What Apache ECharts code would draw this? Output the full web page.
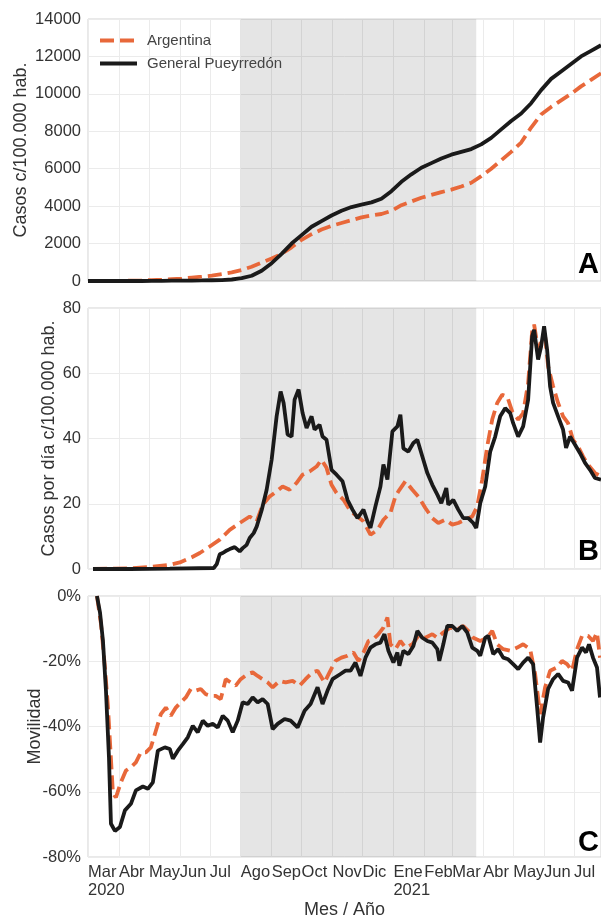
<!DOCTYPE html>
<html><head><meta charset="utf-8">
<script src="https://cdn.jsdelivr.net/npm/echarts@6/dist/echarts.min.js"></script>
<style>html,body{margin:0;padding:0;background:#fff}#c{width:601px;height:917px}</style>
</head><body><div id="c"></div><script>
// Month labels (Spanish)
const monthNames = ['Ene','Feb','Mar','Abr','May','Jun','Jul','Ago','Sep','Oct','Nov','Dic'];
const seriesNames = ['Argentina', 'General Pueyrredón'];
// Days counted from 2020-03-01
const daysA = [0,14,24,34,44,54,64,74,84,94,104,114,124,134,144,154,164,174,184,194,204,214,224,234,244,254,264,274,284,294,304,314,324,334,344,354,364,374,384,394,404,414,424,434,444,454,464,474,484,494,504,514];
// Panel A: cumulative cases per 100,000
const argCum = [0,0,5,10,20,30,50,70,100,130,180,230,290,370,460,590,760,980,1200,1450,1800,2200,2500,2750,2950,3100,3250,3400,3500,3580,3750,4050,4250,4450,4600,4750,4880,5050,5250,5600,6000,6450,6900,7400,8200,8900,9300,9650,10000,10400,10750,11100];
const gpCum = [0,0,0,0,0,0,5,10,15,20,25,30,40,50,80,150,280,550,950,1450,2000,2450,2900,3200,3500,3750,3950,4080,4200,4400,4800,5300,5700,6050,6300,6550,6750,6900,7050,7300,7650,8100,8550,8950,9500,10200,10800,11200,11600,12000,12300,12600];
// Panel B: daily cases per 100,000 [day, value]
const argDaily = [[5,0],[42,0.2],[62,0.6],[82,1.3],[92,2],[104,3.6],[112,4.9],[122,6.9],[132,9],[142,12],[152,14.1],[162,16.1],[169,14.6],[175,19.7],[182,22.2],[189,23.8],[195,25.3],[202,24.3],[209,26.4],[215,28.9],[222,29.9],[229,31.4],[234,33.5],[239,31],[244,25.8],[249,23.3],[256,21.2],[263,17.7],[270,16.1],[276,14.6],[283,10.5],[290,12],[296,15.1],[303,17.2],[308,22.2],[311,23.8],[318,26.9],[325,24.3],[331,22.2],[338,18.7],[345,15.6],[351,14.1],[358,15.1],[365,13.6],[371,14.1],[378,15.1],[385,16.1],[390,19.2],[395,27.4],[400,37.6],[405,45.8],[410,50.9],[415,53.4],[420,52.9],[425,48.3],[431,45.8],[436,47.8],[441,57],[445,72.8],[447,74.9],[451,67.2],[455,70.8],[458,71.3],[461,62.1],[466,56],[471,50.9],[476,46.8],[481,44.7],[486,39.6],[491,37.6],[496,34.5],[501,32],[508,29.4],[514,28.4]];
const gpDaily = [[5,0],[42,0],[82,0.1],[126,0.3],[129,1.5],[132,4.5],[135,4.9],[138,5.5],[142,6.1],[147,6.7],[152,5.4],[155,6.4],[159,7.4],[162,9.5],[166,11],[169,13],[174,18],[179,24.3],[184,33.5],[189,46.8],[193,54.4],[196,50.9],[200,41.2],[204,40.6],[207,51.9],[211,55],[215,47.8],[219,43.2],[224,46.8],[227,42.7],[232,44.2],[235,40.6],[239,39.6],[244,30.4],[249,28.9],[255,26.9],[260,21.2],[265,18.2],[270,15.6],[276,18.2],[280,14.6],[283,12.6],[288,19.2],[293,25.3],[296,32],[300,27.4],[305,42.2],[310,43.7],[313,47.3],[316,37],[321,36],[326,38.6],[330,39.6],[335,34.5],[340,29.4],[345,25.8],[350,22.8],[354,20.2],[359,24.8],[361,19.7],[366,21.2],[371,18.2],[376,15.6],[381,15.6],[386,14.1],[389,12.6],[393,20.2],[398,25.3],[403,36],[408,40.6],[413,46.8],[418,49.3],[423,47.8],[426,44.7],[431,40.6],[436,43.7],[441,51.9],[445,71.3],[447,73.3],[451,64.2],[454,68.2],[457,74.4],[460,67.2],[463,56],[466,50.9],[471,46.8],[476,42.7],[479,37.1],[483,40.6],[488,38.1],[493,35.5],[498,32.5],[503,30.4],[508,27.9],[514,27.4]];
// Panel C: mobility (%) [day, value]
const argMob = [[9,0],[13,-8.6],[17,-22],[20,-34],[25,-60.6],[28,-61.7],[33,-57.1],[38,-53.5],[43,-52.5],[48,-51],[53,-47.9],[58,-47.9],[63,-46.4],[68,-41.3],[73,-36.2],[78,-34.2],[83,-36.7],[88,-34.2],[93,-32.6],[98,-31.1],[103,-28.5],[108,-29],[113,-28.5],[118,-30.1],[123,-30.6],[128,-30.6],[133,-31.6],[138,-25.5],[143,-26.5],[148,-27.5],[153,-25.5],[160,-23.9],[165,-23.4],[170,-24.5],[175,-25.5],[180,-26.5],[185,-28],[192,-26],[198,-26.5],[205,-26],[212,-27.5],[218,-25.5],[225,-23.4],[230,-22.9],[237,-26.5],[242,-23.4],[248,-19.9],[254,-18.9],[260,-18.3],[266,-17.3],[271,-19.9],[276,-17.3],[281,-13.8],[286,-13.2],[291,-11.7],[296,-9.7],[300,-6.6],[303,-14.8],[308,-16.3],[313,-13.8],[318,-15.8],[325,-14.8],[331,-12.2],[338,-12.8],[345,-11.7],[350,-12.8],[356,-11.2],[363,-9.7],[370,-10.2],[376,-9.2],[381,-10.7],[386,-12.8],[393,-13.8],[400,-12.8],[405,-10.7],[410,-14.8],[416,-16.3],[423,-16.8],[430,-15.8],[436,-14.8],[443,-16.3],[448,-23.9],[453,-36.2],[458,-28],[463,-22.9],[470,-21.9],[475,-19.9],[480,-20.9],[485,-22.9],[490,-16.3],[495,-12.2],[501,-12.2],[506,-13.8],[510,-11.2],[513,-18.9]];
const gpMob = [[9,0],[12,-5],[15,-13.8],[18,-29],[21,-49.4],[23,-69.8],[27,-72],[32,-70.8],[37,-65.7],[43,-63.7],[48,-59.6],[55,-58.4],[60,-59.1],[65,-57.1],[70,-47.4],[77,-46.4],[82,-46.9],[85,-49.9],[90,-47.4],[95,-45.4],[100,-43.3],[105,-39.8],[110,-41.8],[115,-38.2],[120,-39.8],[125,-39.2],[130,-40.3],[135,-36.7],[140,-38.2],[145,-41.8],[150,-38.2],[155,-32.6],[160,-33.1],[165,-31.1],[170,-32.6],[175,-31.6],[180,-33.1],[185,-40.8],[190,-39.2],[197,-37.7],[203,-38.2],[210,-40.3],[217,-35.2],[223,-33.1],[230,-28],[235,-33.1],[240,-29],[245,-25.5],[253,-23.9],[258,-22.9],[263,-22.9],[268,-20.4],[273,-24.5],[278,-18.9],[283,-15.8],[288,-14.8],[293,-14.3],[297,-11.7],[301,-16.8],[306,-20.4],[310,-17.3],[312,-21.4],[316,-16.8],[321,-17.8],[326,-15.3],[330,-10.7],[335,-12.8],[340,-13.8],[345,-14.3],[350,-16.3],[352,-19.9],[356,-14.8],[360,-9.2],[365,-9.2],[370,-10.7],[375,-9.2],[380,-11.2],[385,-15.8],[390,-16.8],[393,-18.3],[398,-12.8],[401,-12.2],[406,-17.8],[411,-16.3],[416,-18.9],[421,-19.4],[426,-20.9],[431,-22.4],[436,-20.4],[441,-18.9],[446,-20.9],[450,-34.2],[453,-44.9],[456,-37.2],[461,-28.5],[466,-25.5],[471,-23.9],[476,-26],[481,-26.5],[485,-29],[490,-18.9],[495,-15.8],[499,-17.3],[502,-14.8],[506,-18.9],[510,-21.9],[513,-31.1]];

const dayTs = d => new Date(2020, 2, 1 + d).getTime();
const xMin = new Date(2020, 2, 1).getTime();
const xMax = new Date(2021, 6, 28).getTime();
const shadeStart = new Date(2020, 7, 1).getTime();
const shadeEnd = new Date(2021, 2, 25).getTime();

const FONT = 'Liberation Sans, Arial, Helvetica, sans-serif';
const ORANGE = '#e8683a', BLACK = '#1a1a1a';
const gridTops = [19, 308, 596], gridH = [262, 261, 261];
const letterTops = [250, 537, 828];

const panels = [
  { arg: daysA.map((d, i) => [dayTs(d), argCum[i]]), gp: daysA.map((d, i) => [dayTs(d), gpCum[i]]),
    min: 0, max: 14000, interval: 2000, name: 'Casos c/100.000 hab.', gap: 58, fmt: v => String(v) },
  { arg: argDaily.map(p => [dayTs(p[0]), p[1]]), gp: gpDaily.map(p => [dayTs(p[0]), p[1]]),
    min: 0, max: 80, interval: 20, name: 'Casos por día c/100.000 hab.', gap: 30, fmt: v => String(v) },
  { arg: argMob.map(p => [dayTs(p[0]), p[1]]), gp: gpMob.map(p => [dayTs(p[0]), p[1]]),
    min: -80, max: 0, interval: 20, name: 'Movilidad', gap: 44, fmt: v => v + '%' }
];

function xLabel(val) {
  const d = new Date(val);
  if (d.getDate() !== 1) return '';
  const m = monthNames[d.getMonth()];
  if (d.getFullYear() === 2020 && d.getMonth() === 2) return m + '\n2020';
  if (d.getMonth() === 0) return m + '\n2021';
  return m;
}

const option = {
  animation: false,
  backgroundColor: '#fff',
  textStyle: { fontFamily: FONT },
  title: ['A', 'B', 'C'].map((t, i) => ({
    text: t, right: 2, top: letterTops[i], padding: 0,
    textStyle: { fontSize: 29, fontWeight: 'bold', color: '#000', fontFamily: FONT }
  })),
  legend: {
    data: seriesNames, orient: 'vertical', left: 98, top: 33, padding: 0,
    itemWidth: 37, itemHeight: 14, itemGap: 8,
    itemStyle: { opacity: 0 },
    lineStyle: { width: 4 },
    textStyle: { fontSize: 15, color: '#444', fontFamily: FONT, padding: [0, 0, 0, 5] }
  },
  grid: gridTops.map((t, i) => ({
    left: 88, top: t, width: 513, height: gridH[i], show: true,
    borderColor: '#d2d2d2', borderWidth: 1, backgroundColor: 'transparent',
    containLabel: false, outerBoundsMode: 'none'
  })),
  xAxis: [0, 1, 2].map(i => ({
    type: 'time', gridIndex: i, min: xMin, max: xMax,
    minInterval: 28 * 864e5, maxInterval: 31 * 864e5,
    axisLine: { show: false }, axisTick: { show: false },
    splitLine: { show: true, lineStyle: { color: '#ebebeb', width: 1 } },
    axisLabel: i === 2 ? {
      show: true, formatter: xLabel, align: 'left', fontSize: 16.5, color: '#333',
      margin: 6, lineHeight: 18, interval: 0, hideOverlap: false, fontFamily: FONT,
      showMinLabel: true, showMaxLabel: true
    } : { show: false },
    name: i === 2 ? 'Mes / Año' : '', nameLocation: 'middle', nameGap: 44,
    nameMoveOverlap: false,
    nameTextStyle: { fontSize: 18, color: '#333', fontFamily: FONT }
  })),
  yAxis: panels.map((p, i) => ({
    type: 'value', gridIndex: i, min: p.min, max: p.max, interval: p.interval,
    axisLine: { show: false }, axisTick: { show: false },
    splitLine: { show: true, lineStyle: { color: '#ebebeb', width: 1 } },
    axisLabel: { fontSize: 16.5, color: '#333', margin: 7, formatter: p.fmt, fontFamily: FONT },
    name: p.name, nameLocation: 'middle', nameGap: p.gap, nameRotate: 90,
    nameMoveOverlap: false,
    nameTextStyle: { fontSize: 18, color: '#333', fontFamily: FONT }
  })),
  series: []
};

panels.forEach((p, i) => {
  option.series.push({
    type: 'line', xAxisIndex: i, yAxisIndex: i, data: [], silent: true, z: 1,
    markArea: { silent: true, itemStyle: { color: 'rgba(0,0,0,0.1)' },
      data: [[{ xAxis: shadeStart }, { xAxis: shadeEnd }]] }
  });
  option.series.push({
    name: seriesNames[0], type: 'line', xAxisIndex: i, yAxisIndex: i, data: p.arg,
    symbol: 'none', showSymbol: false, z: 3,
    itemStyle: { color: ORANGE },
    lineStyle: { color: ORANGE, width: 3.8, type: [14, 6] }
  });
  option.series.push({
    name: seriesNames[1], type: 'line', xAxisIndex: i, yAxisIndex: i, data: p.gp,
    symbol: 'none', showSymbol: false, z: 4,
    itemStyle: { color: BLACK },
    lineStyle: { color: BLACK, width: 3.8 }
  });
});

const chart = echarts.init(document.getElementById('c'), null, { renderer: 'canvas' });
chart.setOption(option);
</script></body></html>
